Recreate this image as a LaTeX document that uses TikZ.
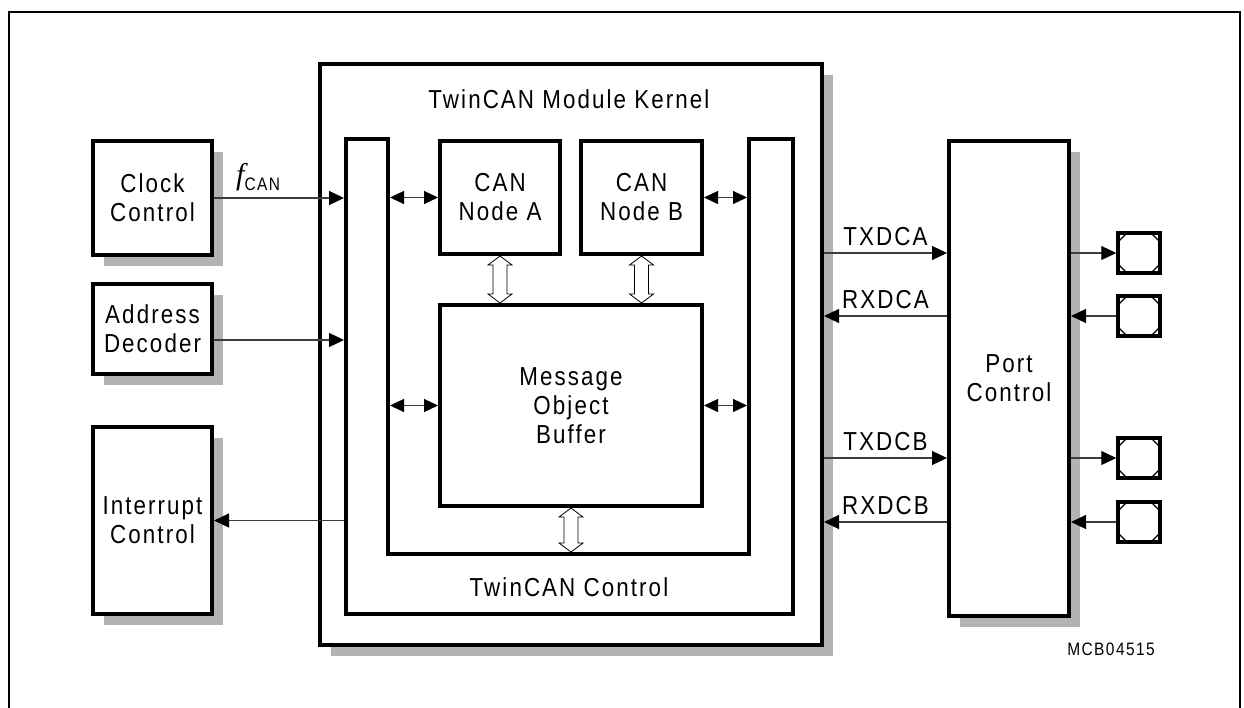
\documentclass[tikz,border=0pt]{standalone}
\usepackage{fontspec}
\setmainfont{Liberation Sans}[LetterSpace=8, FakeStretch=0.86]
\newfontfamily\serifit{Liberation Serif}[UprightFont=* Italic]
\usetikzlibrary{arrows.meta,shadows,calc}
\definecolor{shadowgray}{RGB}{179,179,179}
\definecolor{linegray}{RGB}{60,60,60}
\tikzset{
  lbl/.style={font=\fontsize{26}{29}\selectfont, align=center},
  box/.style={draw, line width=4pt, fill=white, inner sep=0pt, anchor=north west, lbl},
  shadowed/.style={drop shadow={shadow xshift=11pt, shadow yshift=-11pt, fill=shadowgray, opacity=1}},
  conn/.style={draw=linegray, line width=1.2pt, -{Triangle[length=15pt,width=14pt,fill=black,color=black]}},
  dbl/.style={draw=linegray, line width=1.2pt, {Triangle[length=14pt,width=13pt,fill=black,color=black]}-{Triangle[length=14pt,width=13pt,fill=black,color=black]}},
  hollowline/.style={draw=black, line width=0.8pt, fill=white, line join=miter},
  pad/.style={draw, line width=3.5pt, fill=white, minimum width=42pt, minimum height=40pt, inner sep=0pt,
    path picture={
      \draw[line width=1.3pt] ([yshift=-9pt]path picture bounding box.north west) -- ([xshift=9pt]path picture bounding box.north west);
      \draw[line width=1.3pt] ([yshift=-9pt]path picture bounding box.north east) -- ([xshift=-9pt]path picture bounding box.north east);
      \draw[line width=1.3pt] ([yshift=9pt]path picture bounding box.south west) -- ([xshift=9pt]path picture bounding box.south west);
      \draw[line width=1.3pt] ([yshift=9pt]path picture bounding box.south east) -- ([xshift=-9pt]path picture bounding box.south east);
    }},
  sig/.style={font=\fontsize{26}{29}\selectfont, anchor=base, yshift=8pt}
}
% hollow vertical double arrow between two points (upper point first)
\newcommand{\hollowbus}[2]{%
  \draw[hollowline] let \p1=#1, \p2=#2 in
    (\x1,\y1) -- (\x1+12pt,\y1-9pt) -- (\x1+7pt,\y1-9pt) -- (\x1+7pt,\y2+9pt) -- (\x1+12pt,\y2+9pt)
    -- (\x1,\y2) -- (\x1-12pt,\y2+9pt) -- (\x1-7pt,\y2+9pt) -- (\x1-7pt,\y1-9pt) -- (\x1-12pt,\y1-9pt) -- cycle;}
\begin{document}
\begin{tikzpicture}[x=1pt,y=-1pt]
\useasboundingbox (0,0) rectangle (1244,707);
% outer frame (open at the bottom)
\draw[line width=2pt] (9,710) -- (9,12) -- (1240,12) -- (1240,710);

% kernel
\node[box, shadowed, minimum width=502pt, minimum height=581pt] (kernel) at (318,62) {};
\node[lbl, anchor=base] (ktitle) at (569,108) {TwinCAN Module Kernel};

% TwinCAN control (U shape)
\draw[line width=4pt, line join=miter] (346,139) -- (388,139) -- (388,554) -- (749,554) -- (749,139) -- (793,139) -- (793,614) -- (346,614) -- cycle;
\coordinate (uLo) at (344,0);
\coordinate (uLi) at (390,0);
\coordinate (uRi) at (747,0);
\coordinate (uBi) at (0,552);
\node[lbl, anchor=base] (ctltitle) at (569,596) {TwinCAN Control};

% inner blocks
\node[box, minimum width=120pt, minimum height=113pt] (canA) at (438,139) {CAN\\Node A};
\node[box, minimum width=121pt, minimum height=113pt] (canB) at (579,139) {CAN\\Node B};
\node[box, minimum width=262pt, minimum height=201pt] (mob) at (438,303) {Message\\Object\\Buffer};

% left blocks
\node[box, shadowed, minimum width=119pt, minimum height=114pt] (clk) at (91,139) {Clock\\Control};
\node[box, shadowed, minimum width=119pt, minimum height=90pt] (addr) at (91,282) {Address\\Decoder};
\node[box, shadowed, minimum width=119pt, minimum height=187pt] (intr) at (91,425) {Interrupt\\Control};

% port control
\node[box, shadowed, minimum width=120pt, minimum height=475pt] (port) at (947,139) {Port\\Control};

% pads
\node[pad] (pad1) at (1139,253) {};
\node[pad] (pad2) at (1139,316) {};
\node[pad] (pad3) at (1139,458) {};
\node[pad] (pad4) at (1139,522) {};

% left connectors
\draw[conn] (clk.east) -- (clk.east -| uLo);
\node[anchor=base west, inner sep=0pt] (fcan) at (236,184) {{\fontsize{30}{30}\serifit f}\raisebox{-6pt}{\fontsize{18}{18}\selectfont CAN}};
\draw[conn] ([yshift=-11pt]addr.east) -- ([yshift=-11pt]addr.east -| uLo);
\draw[conn] (intr.east -| uLo) -- (intr.east);

% inner double arrows
\draw[dbl] (canA.west -| uLi) -- (canA.west);
\draw[dbl] (canB.east) -- (canB.east -| uRi);
\draw[dbl] (mob.west -| uLi) -- (mob.west);
\draw[dbl] (mob.east) -- (mob.east -| uRi);

% hollow bus arrows
\hollowbus{(canA.south)}{(canA.south |- mob.north)}
\hollowbus{(canB.south)}{(canB.south |- mob.north)}
\hollowbus{(mob.south)}{(mob.south |- uBi)}

% kernel <-> port control
\draw[conn] (kernel.east |- pad1) -- (port.west |- pad1) node[sig, midway] (ltxa) {TXDCA};
\draw[conn] (port.west |- pad2) -- (kernel.east |- pad2) node[sig, midway] (lrxa) {RXDCA};
\draw[conn] (kernel.east |- pad3) -- (port.west |- pad3) node[sig, midway] (ltxb) {TXDCB};
\draw[conn] (port.west |- pad4) -- (kernel.east |- pad4) node[sig, midway] (lrxb) {RXDCB};

% port control <-> pads
\draw[conn] (port.east |- pad1) -- (pad1.west);
\draw[conn] (pad2.west) -- (port.east |- pad2);
\draw[conn] (port.east |- pad3) -- (pad3.west);
\draw[conn] (pad4.west) -- (port.east |- pad4);

% figure id
\node[anchor=base, font=\fontsize{18}{18}\selectfont] (figid) at (1111,655) {MCB04515};
\end{tikzpicture}
\end{document}
